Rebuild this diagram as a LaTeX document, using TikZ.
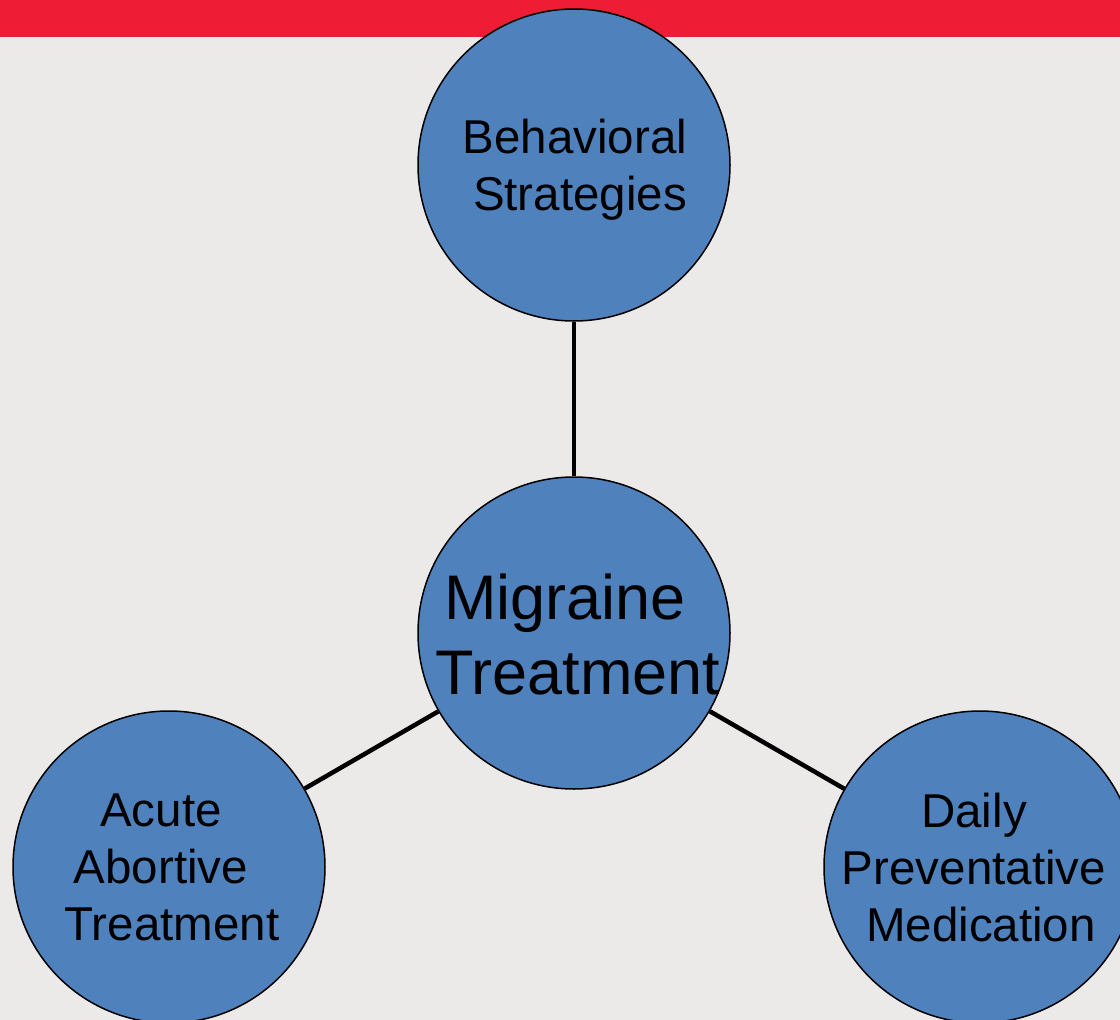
\documentclass[tikz,border=0pt]{standalone}
\usepackage{fontspec}
\setmainfont{Liberation Sans}
\definecolor{barred}{HTML}{EE1C34}
\definecolor{paper}{HTML}{ECE9E9}
\definecolor{discblue}{HTML}{4F81BD}
\tikzset{
  disc/.style={circle, draw=black, line width=1.5pt, fill=discblue,
    minimum size=312pt, inner sep=0pt},
  conn/.style={draw=black, line width=4.5pt},
  lbl/.style={inner sep=0pt, align=center, text=black,
    font=\fontsize{47.5}{57}\selectfont},
  biglbl/.style={inner sep=0pt, align=center, text=black,
    font=\fontsize{63}{75}\selectfont},
}
\begin{document}
\begin{tikzpicture}[x=1pt,y=-1pt]
  \useasboundingbox (0,0) rectangle (1120,1020);
  \clip (0,0) rectangle (1120,1020);
  % page background and top band
  \fill[paper] (0,0) rectangle (1120,1020);
  \fill[barred] (0,0) rectangle (1120,37);

  % circles
  \node[disc] (beh) at (574,165) {};
  \node[disc] (mig) at (574,633) {};
  \node[disc] (acu) at (169,867) {};
  \node[disc] (dai) at (980,867) {};

  % spokes from the hub
  \draw[conn] (beh) -- (mig);
  \draw[conn] (mig) -- (acu);
  \draw[conn] (mig) -- (dai);

  % labels
  \node[lbl] (beh-t) at (575,169.5) {Behavioral\\\hspace*{10pt}Strategies};
  \node[biglbl] (mig-t) at (565,634) {Migraine\\\hspace*{26pt}Treatment};
  \node[lbl] (acu-t) at (161,867.5) {Acute\\Abortive\\\hspace*{22pt}Treatment};
  \node[lbl] (dai-t) at (974,867.5) {Daily\\Preventative\\\hspace*{14pt}Medication};
\end{tikzpicture}
\end{document}
